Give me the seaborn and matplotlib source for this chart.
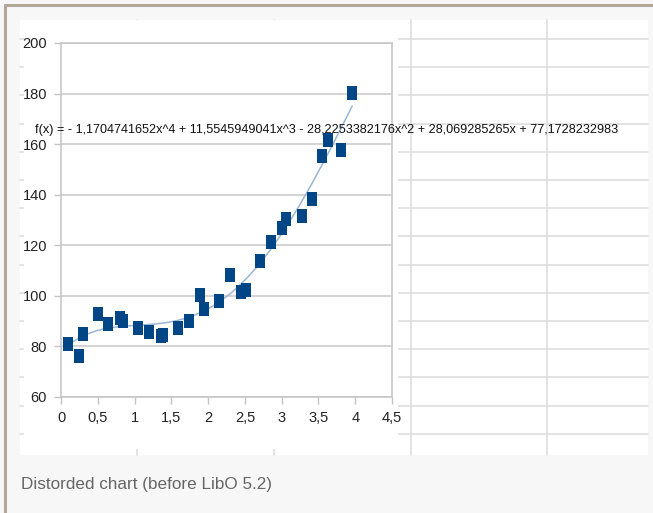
import numpy as np
import pandas as pd
import seaborn as sns
import matplotlib.pyplot as plt
from matplotlib.path import Path
from matplotlib.ticker import FuncFormatter

x_vals = [0.10, 0.24, 0.30, 0.50, 0.64, 0.80, 0.84, 1.05, 1.20, 1.36, 1.39, 1.59, 1.74, 1.89, 1.95,
          2.15, 2.30, 2.45, 2.52, 2.71, 2.86, 3.01, 3.06, 3.27, 3.41, 3.55, 3.63, 3.81, 3.96]
y_vals = [81.0, 76.3, 85.0, 92.9, 88.9, 91.3, 90.1, 87.4, 85.8, 84.2, 84.6, 87.4, 90.1, 100.4, 94.9,
          98.0, 108.3, 101.6, 102.4, 113.8, 121.3, 126.9, 130.4, 131.6, 138.3, 155.3, 161.7, 157.7, 180.2]

x_ticks = [0, 0.5, 1, 1.5, 2, 2.5, 3, 3.5, 4, 4.5]
y_ticks = [60, 80, 100, 120, 140, 160, 180, 200]

equation = ("f(x) = - 1,1704741652x^4 + 11,5545949041x^3 - 28,2253382176x^2 "
            "+ 28,069285265x + 77,1728232983")
caption = "Distorded chart (before LibO 5.2)"

df = pd.DataFrame({"x": x_vals, "y": y_vals})

sns.set_style("white")
plt.rcParams['font.family'] = ['Liberation Sans', 'DejaVu Sans']

W, H = 653, 513
fig = plt.figure(figsize=(W / 100, H / 100), dpi=100, facecolor='#f7f7f7')

# background: spreadsheet cells behind the chart object
bg = fig.add_axes([0, 0, 1, 1])
bg.set_xlim(0, W)
bg.set_ylim(H, 0)
bg.axis('off')
bg.plot([4, W], [5, 5], color='#b3a899', lw=2.2, solid_capstyle='butt')
bg.plot([5, 5], [4, H], color='#b3a899', lw=2.2, solid_capstyle='butt')
bg.add_patch(plt.Rectangle((20, 20), 628, 435, facecolor='white', edgecolor='none'))
for yy in np.arange(39, 440, 28.2):
    bg.plot([20, 648], [yy, yy], color='#dedede', lw=1.2)
for xx in [137, 274, 411, 547]:
    bg.plot([xx, xx], [20, 455], color='#dedede', lw=1.2)
bg.add_patch(plt.Rectangle((24, 20), 374, 429, facecolor='white', edgecolor='none', zorder=5))

# chart plot area
ax = fig.add_axes([61 / W, (H - 397) / H, (392 - 61) / W, (397 - 43) / H])
ax.set_facecolor('white')

sns.regplot(data=df, x="x", y="y", order=4, ci=None, scatter=False, ax=ax,
            line_kws=dict(color='#9ab6d3', lw=1.1, zorder=2))

rect = Path([(-0.36, -0.5), (0.36, -0.5), (0.36, 0.5), (-0.36, 0.5), (-0.36, -0.5)])
sns.scatterplot(data=df, x="x", y="y", marker=rect, s=115, color='#004586',
                linewidth=0, ax=ax, zorder=3)

ax.set_xlim(0, 4.5)
ax.set_ylim(60, 200)
ax.set_xticks(x_ticks)
ax.set_yticks(y_ticks)
fmt = FuncFormatter(lambda v, p: ('%g' % v).replace('.', ','))
ax.xaxis.set_major_formatter(fmt)
ax.yaxis.set_major_formatter(fmt)
ax.grid(axis='y', color='#c8c8c8', lw=1.1)
ax.grid(axis='x', visible=False)
ax.set_axisbelow(True)
for sp in ax.spines.values():
    sp.set_color('#c4c4c4')
    sp.set_linewidth(1.1)
ax.tick_params(direction='out', length=5, width=1, color='#c4c4c4',
               labelsize=10.5, labelcolor='#222222', pad=5)
ax.tick_params(axis='y', left=True)
ax.tick_params(axis='x', bottom=True)
ax.set_xlabel("")
ax.set_ylabel("")

eq = fig.text(35 / W, 1 - 130 / H, equation, fontsize=10, color='#111111', va='center', ha='left')
cap = fig.text(21 / W, 1 - 484 / H, caption, fontsize=10, color='#666666', va='center', ha='left')

# scale the two long texts to the widths seen in the screenshot
fig.canvas.draw()
r = fig.canvas.get_renderer()
eq.set_fontsize(10 * 587 / eq.get_window_extent(r).width)
cap.set_fontsize(10 * 251 / cap.get_window_extent(r).width)

fig.savefig("out.png", dpi=100, facecolor=fig.get_facecolor())
